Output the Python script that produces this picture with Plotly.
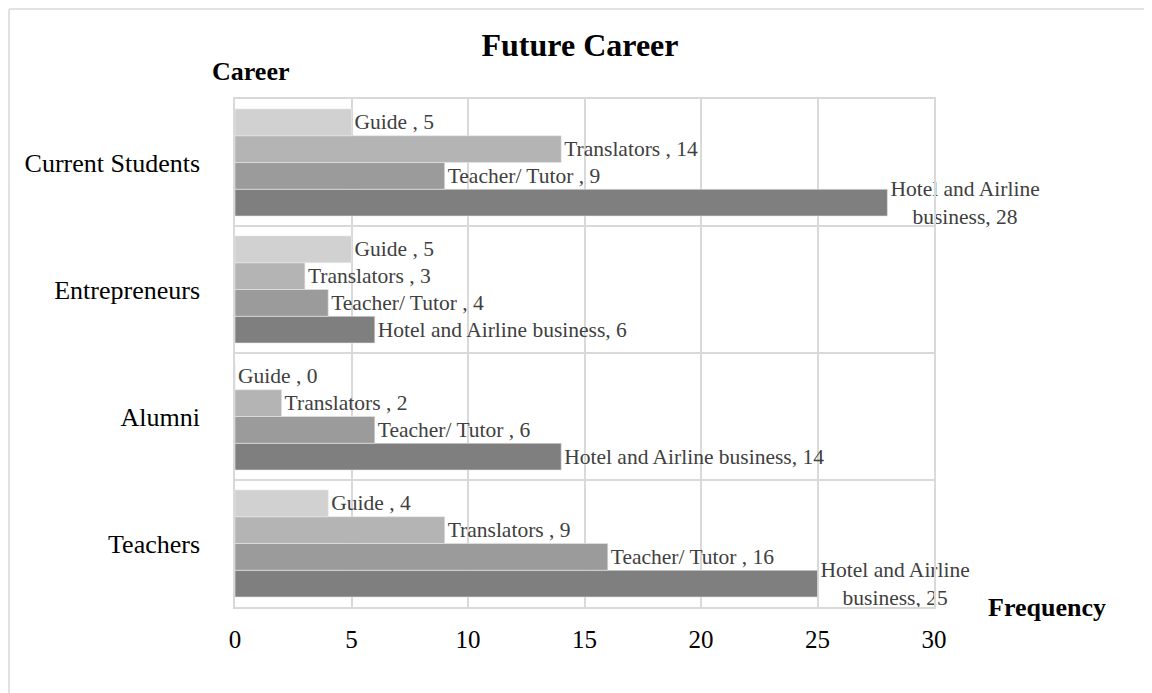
import plotly.graph_objects as go

groups = ["Teachers", "Alumni", "Entrepreneurs", "Current Students"]
series_names = ["Hotel and Airline business", "Teacher/ Tutor ", "Translators ", "Guide "]
hotel = [25, 14, 6, 28]
teacher = [16, 6, 4, 9]
translators = [9, 2, 3, 14]
guide = [4, 0, 5, 5]
x_ticks = [0, 5, 10, 15, 20, 25, 30]

values = [hotel, teacher, translators, guide]
colors = ["#7f7f7f", "#9b9b9b", "#b4b4b4", "#d1d1d1"]
FONT = "Liberation Serif, Times New Roman, serif"

# page offset of the plot area (body margin 8px)
PL, PT, PW, PH = 235, 99, 699, 508

fig = go.Figure()
for name, vals, col in zip(series_names, values, colors):
    texts = []
    for v in vals:
        label = f"{name}, {v}"
        if v > 20 and len(name) > 20:
            label = "Hotel and Airline<br>business, " + str(v)
        texts.append(label)
    fig.add_trace(go.Bar(
        y=groups, x=vals, orientation="h", name=name,
        marker=dict(color=col, line=dict(color="#e6e6e6", width=0.6)),
        text=texts, textposition="outside", cliponaxis=False,
        constraintext="none",
        textfont=dict(family=FONT, size=21.5, color="#404040"),
        hoverinfo="skip",
    ))

fig.update_layout(
    width=1144, height=685,
    barmode="group", bargap=0.157, bargroupgap=0,
    showlegend=False,
    plot_bgcolor="white", paper_bgcolor="white",
    margin=dict(l=PL - 8, r=1144 - (PL - 8) - PW, t=PT - 8, b=685 - (PT - 8) - PH),
    font=dict(family=FONT, color="#000000"),
    title=dict(text="<b>Future Career</b>", x=(580 - PL) / PW, xref="paper",
               xanchor="center", y=1 - (45 - 8) / 685, yanchor="middle",
               font=dict(family=FONT, size=32, color="#000000")),
    xaxis=dict(range=[0, 30], tickvals=x_ticks, showgrid=True,
               gridcolor="#d9d9d9", gridwidth=1.5, zeroline=False,
               showline=True, linecolor="#d9d9d9", linewidth=1.5, mirror=True,
               ticks="", ticklabelstandoff=9,
               tickfont=dict(family=FONT, size=25, color="#000000")),
    yaxis=dict(categoryorder="array", categoryarray=groups,
               tickson="boundaries", showgrid=True, gridcolor="#d9d9d9",
               gridwidth=1.5, showline=True, linecolor="#d9d9d9",
               linewidth=1.5, mirror=True, ticks="", ticklabelstandoff=28,
               tickfont=dict(family=FONT, size=26, color="#000000")),
    annotations=[
        dict(text="<b>Career</b>", xref="paper", yref="paper",
             x=(250 - PL) / PW, y=1 + (PT - 71) / PH, xanchor="center",
             yanchor="middle", showarrow=False,
             font=dict(family=FONT, size=26, color="#000000")),
        dict(text="<b>Frequency</b>", xref="paper", yref="paper",
             x=(1047 - PL) / PW, y=0, xanchor="center",
             yanchor="middle", showarrow=False,
             font=dict(family=FONT, size=26, color="#000000")),
    ],
    shapes=[
        dict(type="line", xref="paper", yref="paper",
             x0=(9 - PL) / PW, x1=(9 - PL) / PW, y0=-0.2, y1=1 + (PT - 9) / PH,
             line=dict(color="#d9d9d9", width=1.5)),
        dict(type="line", xref="paper", yref="paper",
             x0=(9 - PL) / PW, x1=1.4, y0=1 + (PT - 9) / PH, y1=1 + (PT - 9) / PH,
             line=dict(color="#d9d9d9", width=1.5)),
    ],
)

fig.write_html("out.html")
